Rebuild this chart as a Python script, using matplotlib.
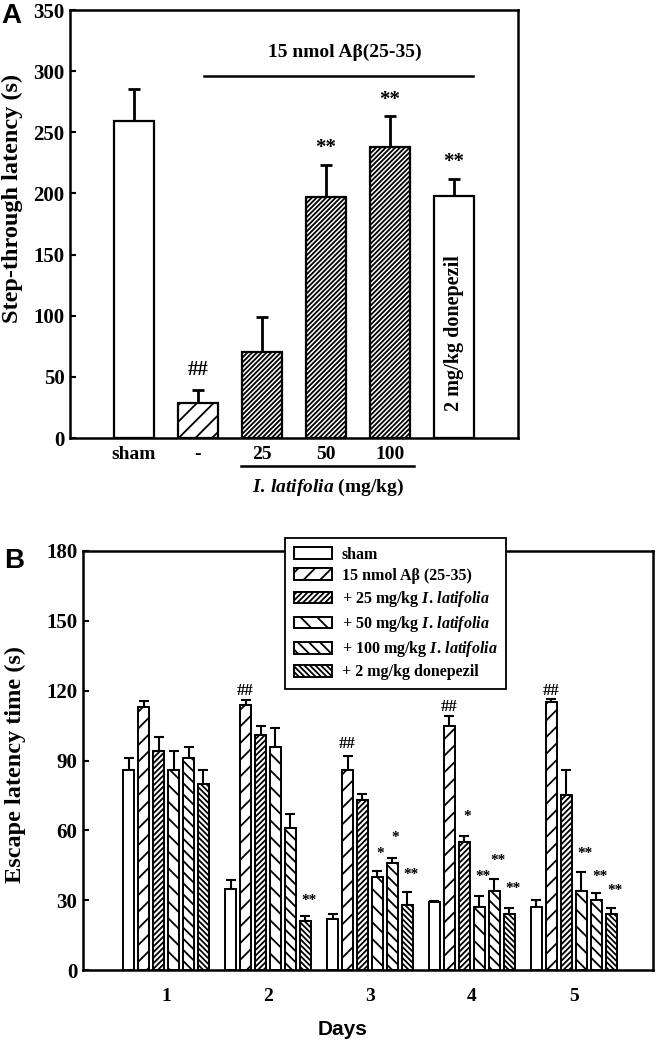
import numpy as np
import matplotlib
matplotlib.use("Agg")
import matplotlib.pyplot as plt
from matplotlib import transforms

plt.rcParams['font.family'] = ['Liberation Serif', 'DejaVu Serif']
plt.rcParams['font.weight'] = 'bold'
plt.rcParams['mathtext.fontset'] = 'custom'
plt.rcParams['mathtext.rm'] = 'Liberation Serif:bold'
plt.rcParams['mathtext.it'] = 'Liberation Serif:italic:bold'
plt.rcParams['mathtext.bf'] = 'Liberation Serif:bold'
plt.rcParams['hatch.linewidth'] = 1.3

# ---- panel A: step-through latency
groups_a = ['sham', '-', '25', '50', '100', '']
latency = [259, 29, 70, 197, 238, 198]
latency_err = [26, 10, 29, 26, 25, 14]
marks_a = ['', '##', '', '**', '**', '**']
marks_a_y = [0, 56, 0, 237, 276, 226]
hatch_a = ['', '//', '///////', '///////', '///////', '']

# ---- panel B: escape latency over days
days = [1, 2, 3, 4, 5]
series_b = ['sham', '15 nmol A\u03b2 (25-35)',
            '+ 25 mg/kg $I.\\,latifolia$', '+ 50 mg/kg $I.\\,latifolia$',
            '+ 100 mg/kg $I.\\,latifolia$', '+ 2 mg/kg donepezil']
sham = [86, 35, 22, 29, 27]
sham_err = [5, 3.5, 2, 0.8, 3]
abeta = [113, 114, 86, 105, 115]
abeta_err = [2.5, 2, 6, 4, 1.5]
il25 = [94, 101, 73, 55, 75]
il25_err = [6, 4, 2.5, 2.5, 11]
il50 = [86, 96, 40, 27, 34]
il50_err = [8, 8, 2.5, 5, 8]
il100 = [91, 61, 46, 34, 30]
il100_err = [5, 6, 2, 5, 3]
donep = [80, 21, 28, 24, 24]
donep_err = [6, 2, 5.5, 2.5, 2.5]
hatch_b = ['', '//', '//////', '\\\\', '\\\\\\', '\\\\\\\\\\\\']

# significance marks in B: series index, day, text, height
mark_series = [1, 1, 1, 1, 5, 3, 4, 5, 2, 3, 4, 5, 3, 4, 5]
mark_day = [2, 3, 4, 5, 2, 3, 3, 3, 4, 4, 4, 4, 5, 5, 5]
mark_text = ['##', '##', '##', '##', '**', '*', '*', '**', '*', '**', '**', '**', '**', '**', '**']
mark_y = [120, 97, 113, 120, 30, 50, 57, 41, 66, 40, 47, 35, 50, 40, 34]

fig = plt.figure(figsize=(6.6, 10.47), dpi=100)

# ================= A =================
axA = fig.add_axes([70/660, 1-438/1047, 448/660, 428/1047])
xa = np.arange(1, 7)
axA.bar(xa, latency, width=0.61, color='white', edgecolor='black',
        linewidth=1.6, hatch=hatch_a, zorder=2)
axA.errorbar(xa, latency, yerr=[np.zeros(6), latency_err], fmt='none',
             ecolor='black', elinewidth=2, capsize=4.5, capthick=2, zorder=1)
for x, t, y in zip(xa, marks_a, marks_a_y):
    if t:
        axA.text(x, y, t, ha='center', va='center', fontsize=15, fontweight='bold')
axA.text(6, 86, '2 mg/kg donepezil', rotation=90, ha='center', va='center',
         fontsize=14.5, fontweight='bold')
axA.set_xlim(0, 7)
axA.set_ylim(0, 350)
axA.set_yticks(np.arange(0, 351, 50))
axA.set_xticks(xa[:5])
axA.set_xticklabels(groups_a[:5])
axA.tick_params(axis='x', length=0, pad=6, labelsize=14)
axA.tick_params(axis='y', direction='in', length=4, width=1.5, labelsize=15, pad=4)
for s in axA.spines.values():
    s.set_linewidth(1.8)
axA.set_ylabel('Step-through latency (s)', fontsize=17.5, fontweight='bold', va='center')
axA.yaxis.set_label_coords(-0.128, 0.56)

# A beta bracket above and extract bracket below
axA.plot([2.09, 6.3], [296, 296], color='black', lw=1.8, clip_on=False)
axA.text(4.3, 315, '15 nmol A\u03b2(25-35)', ha='center', va='center', fontsize=14)
tr = transforms.blended_transform_factory(axA.transData, axA.transAxes)
axA.plot([2.67, 5.375], [-0.0654, -0.0654], color='black', lw=1.8,
         transform=tr, clip_on=False)
axA.text(4.03, -0.115, '$I.\\,latifolia$ (mg/kg)', transform=tr,
         ha='center', va='center', fontsize=14)

fig.text(0.002, 1-16/1047, 'A', fontsize=20, fontweight='bold',
         family='Liberation Sans', ha='left', va='center')

# ================= B =================
axB = fig.add_axes([83/660, 1-970/1047, 570/660, 419/1047])
vals_b = [sham, abeta, il25, il50, il100, donep]
errs_b = [sham_err, abeta_err, il25_err, il50_err, il100_err, donep_err]
bw = 0.108
step = 0.147
xd = np.array(days, dtype=float)
for i in range(6):
    xs = xd + (i - 2.5) * step
    axB.bar(xs, vals_b[i], width=bw, color='white', edgecolor='black',
            linewidth=1.4, hatch=hatch_b[i], label=series_b[i], zorder=2)
    axB.errorbar(xs, vals_b[i], yerr=[np.zeros(5), errs_b[i]], fmt='none',
                 ecolor='black', elinewidth=1.5, capsize=3.5, capthick=1.5, zorder=1)
for si, d, t, y in zip(mark_series, mark_day, mark_text, mark_y):
    x = d + (si - 2.5) * step + (0.03 if t != '##' else 0)
    axB.text(x, y, t, ha='center', va='center',
             fontsize=12 if t == '##' else 11, fontweight='bold')
axB.set_xlim(0.186, 5.775)
axB.set_ylim(0, 180)
axB.set_yticks(np.arange(0, 181, 30))
axB.set_xticks(days)
axB.tick_params(axis='x', length=0, pad=13, labelsize=14)
axB.tick_params(axis='y', direction='in', length=4.5, width=1.5, labelsize=15, pad=4)
for s in axB.spines.values():
    s.set_linewidth(1.8)
axB.set_ylabel('Escape latency time (s)', fontsize=17.5, fontweight='bold', va='center')
axB.yaxis.set_label_coords(-0.119, 0.49)
axB.set_xlabel('Days', fontsize=15, fontweight='bold', family='Liberation Sans')
axB.xaxis.set_label_coords(0.456, -0.141)
axB.xaxis.label.set_va('center')

leg = axB.legend(loc='upper left', bbox_to_anchor=(285/660, 1-538/1047),
                 bbox_transform=fig.transFigure, borderaxespad=0, fancybox=False,
                 framealpha=1, edgecolor='black', fontsize=11.5,
                 handlelength=2.4, handleheight=0.75, labelspacing=0.32,
                 handletextpad=0.6, borderpad=0.55)
leg.get_frame().set_linewidth(1.3)
leg.set_zorder(5)

fig.text(0.006, 1-561/1047, 'B', fontsize=20, fontweight='bold',
         family='Liberation Sans', ha='left', va='center')

fig.savefig('out.png', dpi=100)
